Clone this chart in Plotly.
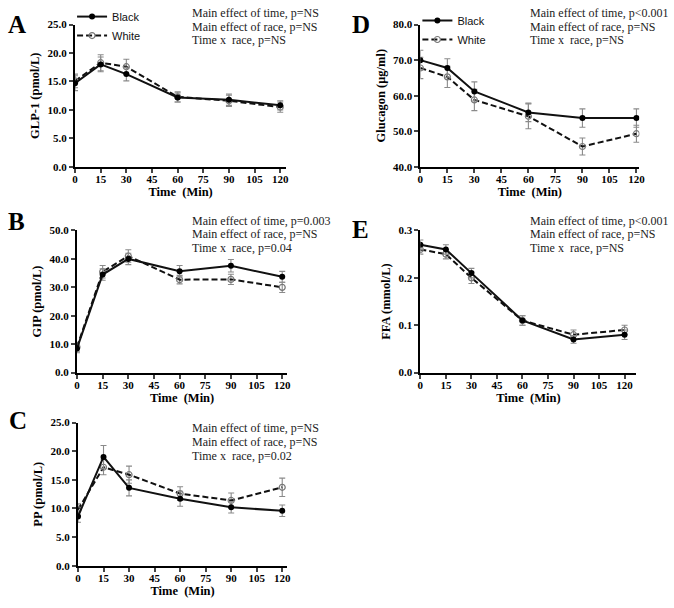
import plotly.graph_objects as go

W, H = 674, 608

time_min = [0, 15, 30, 60, 90, 120]
x_ticks = [0, 15, 30, 45, 60, 75, 90, 105, 120]

# GLP-1 (pmol/L)
glp1_black = [14.7, 18.0, 16.3, 12.2, 11.8, 10.8]
glp1_black_err = [1.3, 1.3, 1.2, 0.8, 1.0, 0.8]
glp1_white = [15.1, 18.3, 17.6, 12.3, 11.6, 10.5]
glp1_white_err = [1.2, 1.4, 1.3, 0.9, 1.0, 0.9]

# GIP (pmol/L)
gip_black = [8.5, 34.5, 40.0, 35.7, 37.6, 33.7]
gip_black_err = [1.5, 2.0, 2.0, 2.0, 2.2, 1.9]
gip_white = [9.0, 35.5, 41.0, 32.7, 32.8, 30.0]
gip_white_err = [1.5, 2.2, 2.2, 1.5, 1.8, 1.8]

# PP (pmol/L)
pp_black = [8.6, 19.0, 13.6, 11.7, 10.2, 9.6]
pp_black_err = [1.0, 2.0, 1.4, 1.3, 1.0, 1.0]
pp_white = [9.8, 17.2, 15.9, 12.6, 11.4, 13.7]
pp_white_err = [1.0, 1.3, 1.5, 1.2, 1.3, 1.6]

# Glucagon (ug/ml)
glu_black = [70.0, 67.8, 61.2, 55.3, 53.7, 53.7]
glu_black_err = [2.8, 2.6, 2.7, 2.6, 2.6, 2.6]
glu_white = [67.8, 65.3, 58.8, 54.2, 45.7, 49.3]
glu_white_err = [3.0, 3.0, 3.0, 3.5, 2.4, 2.4]

# FFA (mmol/L)
ffa_black = [0.27, 0.26, 0.21, 0.11, 0.07, 0.08]
ffa_black_err = [0.01, 0.01, 0.01, 0.01, 0.008, 0.01]
ffa_white = [0.26, 0.25, 0.20, 0.11, 0.08, 0.09]
ffa_white_err = [0.01, 0.01, 0.012, 0.01, 0.01, 0.01]

stats_A = ["Main effect of time, p=NS", "Main effect of race, p=NS", "Time x&nbsp; race, p=NS"]
stats_B = ["Main effect of time, p=0.003", "Main effect of race, p=NS", "Time x&nbsp; race, p=0.04"]
stats_C = ["Main effect of time, p=NS", "Main effect of race, p=NS", "Time x&nbsp; race, p=0.02"]
stats_D = ["Main effect of time, p<0.001", "Main effect of race, p=NS", "Time x&nbsp; race, p=NS"]
stats_E = ["Main effect of time, p<0.001", "Main effect of race, p=NS", "Time x&nbsp; race, p=NS"]

SERIF = "Liberation Serif, Times New Roman, serif"
SANS = "Liberation Sans, Arial, sans-serif"

# panel geometry in pixels: axis left, axis right, x=120 pixel, y top, y bottom
panels = [
    dict(key="", letter="A", left=73, right=287, x120=281, top=19, bottom=164,
         yr=[0, 25], dtick=5, fmt=".1f", ytitle="GLP-1 (pmol/L)",
         b=glp1_black, be=glp1_black_err, w=glp1_white, we=glp1_white_err,
         stats=stats_A, sx=190, sy=7, lx=14, ly=19, legend="legend"),
    dict(key="2", letter="B", left=75, right=288, x120=283, top=229, bottom=374,
         yr=[0, 50], dtick=10, fmt=".1f", ytitle="GIP (pmol/L)",
         b=gip_black, be=gip_black_err, w=gip_white, we=gip_white_err,
         stats=stats_B, sx=190, sy=219, lx=14, ly=220, legend=None),
    dict(key="3", letter="C", left=76, right=288, x120=283, top=425, bottom=571,
         yr=[0, 25], dtick=5, fmt=".1f", ytitle="PP (pmol/L)",
         b=pp_black, be=pp_black_err, w=pp_white, we=pp_white_err,
         stats=stats_C, sx=190, sy=431, lx=15, ly=423, legend=None),
    dict(key="4", letter="D", left=423, right=645, x120=642, top=19, bottom=164,
         yr=[40, 80], dtick=10, fmt=".1f", ytitle="Glucagon (\u03bcg/ml)",
         b=glu_black, be=glu_black_err, w=glu_white, we=glu_white_err,
         stats=stats_D, sx=532, sy=7, lx=363, ly=19, legend="legend2"),
    dict(key="5", letter="E", left=423, right=642, x120=630, top=229, bottom=374,
         yr=[0, 0.3], dtick=0.1, fmt=".1f", ytitle="FFA (mmol/L)",
         b=ffa_black, be=ffa_black_err, w=ffa_white, we=ffa_white_err,
         stats=stats_E, sx=532, sy=219, lx=362, ly=228, legend=None),
]

fig = go.Figure()
annotations = []
layout = {}

for p in panels:
    k = p["key"]
    xref, yref = "x" + k, "y" + k
    xmax = 120 * (p["right"] - p["left"]) / (p["x120"] - p["left"])
    show = p["legend"] is not None

    fig.add_trace(go.Scatter(
        x=time_min, y=p["w"], xaxis=xref, yaxis=yref, name="White",
        mode="lines+markers",
        line=dict(color="#111", width=2, dash="6px,3px"),
        marker=dict(symbol="circle-open", size=6, color="#777", line=dict(width=1.2)),
        error_y=dict(type="data", array=p["we"], color="#8a8a8a", thickness=1.1, width=3),
        showlegend=show, legend=p["legend"] or "legend", legendrank=2,
    ))
    fig.add_trace(go.Scatter(
        x=time_min, y=p["b"], xaxis=xref, yaxis=yref, name="Black",
        mode="lines+markers",
        line=dict(color="#111", width=2),
        marker=dict(symbol="circle", size=6, color="#000"),
        error_y=dict(type="data", array=p["be"], color="#8a8a8a", thickness=1.1, width=3),
        showlegend=show, legend=p["legend"] or "legend", legendrank=1,
    ))

    layout["xaxis" + k] = dict(
        domain=[p["left"] / W, p["right"] / W], range=[0, xmax], anchor=yref,
        tickvals=x_ticks, ticks="outside", ticklen=4, tickwidth=1.5,
        ticklabelstandoff=-3,
        showline=True, linecolor="#000", linewidth=2, showgrid=False, zeroline=False,
        tickfont=dict(family=SERIF, size=11, color="#000", weight="bold"),
        title=dict(text="Time&nbsp; (Min)", standoff=0,
                   font=dict(family=SERIF, size=12.5, color="#000", weight="bold")),
    )
    layout["yaxis" + k] = dict(
        domain=[1 - p["bottom"] / H, 1 - p["top"] / H], range=p["yr"], anchor=xref,
        dtick=p["dtick"], tick0=p["yr"][0], tickformat=p["fmt"],
        ticks="outside", ticklen=4, tickwidth=1.5,
        showline=True, linecolor="#000", linewidth=2, showgrid=False, zeroline=False,
        tickfont=dict(family=SERIF, size=11, color="#000", weight="bold"),
        title=dict(text=p["ytitle"], standoff=5,
                   font=dict(family=SERIF, size=12.5, color="#000", weight="bold")),
    )

    annotations.append(dict(
        text=p["letter"], xref="paper", yref="paper", x=p["lx"] / W, y=1 - p["ly"] / H,
        xanchor="center", yanchor="middle", showarrow=False,
        font=dict(family=SERIF, size=25, color="#000", weight="bold"),
    ))
    for i, s in enumerate(p["stats"]):
        annotations.append(dict(
            text=s, xref="paper", yref="paper", x=p["sx"] / W, y=1 - (p["sy"] + 14 * i) / H,
            xanchor="left", yanchor="middle", showarrow=False,
            font=dict(family=SERIF, size=12, color="#222"),
        ))

legend_style = dict(
    bgcolor="rgba(0,0,0,0)", itemwidth=30, tracegroupgap=0,
    font=dict(family=SANS, size=11, color="#111"),
    xanchor="left", yanchor="top",
)
layout["legend"] = dict(legend_style, x=70 / W, y=1 + 4 / H)
layout["legend2"] = dict(legend_style, x=420 / W, y=1 - 0 / H)

fig.update_layout(
    width=W, height=H,
    margin=dict(l=0, r=0, t=0, b=0),
    paper_bgcolor="white", plot_bgcolor="white",
    annotations=annotations,
    **layout,
)

# browser default body margin would shift the figure by 8px
fig.write_html("out.html", config={"displayModeBar": False},
               post_script="document.body.style.margin='0';")
